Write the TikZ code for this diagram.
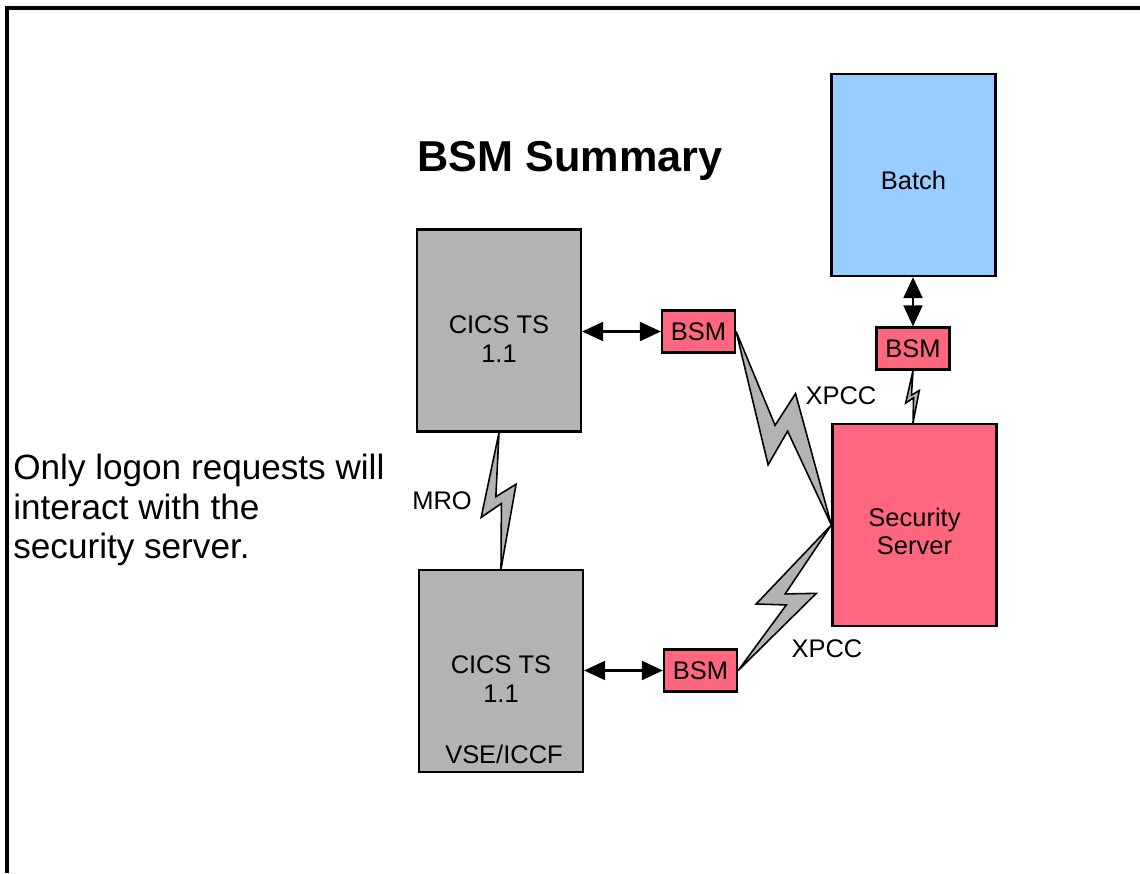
\documentclass[tikz,border=0pt]{standalone}
\usepackage{fontspec}
\setmainfont{Liberation Sans}
\usetikzlibrary{arrows.meta, calc}

\definecolor{cicsgray}{RGB}{179,179,179}
\definecolor{bsmpink}{RGB}{255,102,128}
\definecolor{batchblue}{RGB}{153,204,255}

% lightning link between two nodes
\newcommand{\boltlink}[2]{%
  \draw[bolt] (#1)
    -- ($(#1)!0.47!(#2) + (#1)!-0.03!90:(#2) - (#1)$)
    -- ($(#1)!0.38!(#2) + (#1)!0.12!90:(#2) - (#1)$)
    -- (#2)
    -- ($(#1)!0.52!(#2) + (#1)!0.01!90:(#2) - (#1)$)
    -- ($(#1)!0.62!(#2) + (#1)!-0.14!90:(#2) - (#1)$)
    -- cycle;}

\begin{document}
\begin{tikzpicture}[
        x=0.02cm, y=-0.02cm,
        % Node styles
        sysbox/.style={rectangle, draw=black, line width=1.3pt, minimum width=3.28cm,
                       minimum height=4.04cm, inner sep=0pt},
        cicsbox/.style={sysbox, fill=cicsgray},
        batchbox/.style={sysbox, fill=batchblue},
        serverbox/.style={sysbox, fill=bsmpink},
        bsmbox/.style={rectangle, draw=black, fill=bsmpink, line width=1.3pt, minimum width=1.46cm,
                       minimum height=0.84cm, inner sep=0pt, font=\fontsize{14.5}{16}\selectfont},
        boxtext/.style={align=center, inner sep=0pt, font=\fontsize{14.5}{16.2}\selectfont},
        linklabel/.style={inner sep=0pt, font=\fontsize{14.5}{16}\selectfont},
        arrow/.style={line width=1.2pt, {Triangle[length=0.42cm, width=0.38cm]}-{Triangle[length=0.42cm, width=0.38cm]}},
        bolt/.style={draw=black, fill=cicsgray, line width=0.9pt, line join=miter},
        frame/.style={line width=2.4pt}
    ]
        \useasboundingbox (0,0) rectangle (1140,873);
        \draw[frame] (7,873) -- (7,8) -- (1140,8);

        % Title and note
        \node[inner sep=0pt, font=\fontsize{24.6}{28}\selectfont\bfseries] (title) at (570,161) {BSM Summary};
        \node[anchor=north west, align=left, inner sep=0pt, font=\fontsize{20}{22.4}\selectfont] (note) at (13,454)
            {Only logon requests will\\interact with the\\security server.};

        % Systems
        \node[cicsbox] (cics1) at (499,330.5) {};
        \node[boxtext] (cics1txt) at (499,339) {CICS TS\\1.1};
        \node[cicsbox] (cics2) at (501,671) {};
        \node[boxtext] (cics2txt) at (501,679) {CICS TS\\1.1};
        \node[boxtext] (iccf) at (504,754) {VSE/ICCF};
        \node[batchbox] (batch) at (913.5,175) {};
        \node[boxtext] (batchtxt) at (913.5,180.5) {Batch};
        \node[serverbox] (server) at (914.5,525) {};
        \node[boxtext] (servertxt) at (914.5,531.5) {Security\\Server};

        % BSM modules
        \node[bsmbox] (bsm1) at (698.5,331.5) {BSM};
        \node[bsmbox] (bsm2) at (700.5,670.5) {BSM};
        \node[bsmbox] (bsm3) at (913,348.5) {BSM};

        % Arrows
        \draw[arrow] (cics1.east |- bsm1.west) -- (bsm1.west);
        \draw[arrow] (cics2.east |- bsm2.west) -- (bsm2.west);
        \draw[arrow] (batch.south -| bsm3.north) -- (bsm3.north);

        % Links
        \boltlink{cics1.south}{cics2.north}
        \boltlink{bsm1.east}{server.west}
        \boltlink{bsm2.east}{server.west}
        \boltlink{bsm3.south}{server.north -| bsm3.south}

        % Link labels
        \node[linklabel] (mro) at (442,501) {MRO};
        \node[linklabel] (xpcc1) at (841,396) {XPCC};
        \node[linklabel] (xpcc2) at (827,648.5) {XPCC};
    \end{tikzpicture}
\end{document}
